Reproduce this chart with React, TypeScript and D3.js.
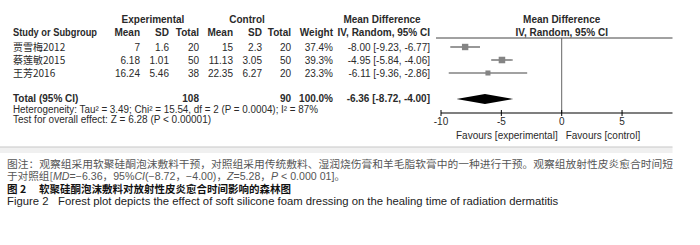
import React from 'react';
import * as d3 from 'd3';

// study data
const studies = ['贾雪梅2012', '蔡莲敏2015', '王芳2016'];
const expMean = [7, 6.18, 16.24];
const expSD = [1.6, 1.01, 5.46];
const expN = [20, 50, 38];
const ctrlMean = [15, 11.13, 22.35];
const ctrlSD = [2.3, 3.05, 6.27];
const ctrlN = [20, 50, 20];
const weights = [37.4, 39.3, 23.3];
const md = [-8.0, -4.95, -6.11];
const ciLow = [-9.23, -5.84, -9.36];
const ciHigh = [-6.77, -4.06, -2.86];

// pooled
const totalExpN = 108;
const totalCtrlN = 90;
const totalMd = -6.36;
const totalLow = -8.72;
const totalHigh = -4.0;

const axisTicks = [-10, -5, 0, 5, 10];

const f2 = (v: number) => v.toFixed(2);
const ciText = (m: number, l: number, h: number) => `${f2(m)} [${f2(l)}, ${f2(h)}]`;

const FONT = '"Liberation Sans", Arial, sans-serif';
const CJK = '"Noto Sans CJK SC", sans-serif';

const App: React.FC = () => {
  const width = 700;
  const height = 245;

  const x = d3.scaleLinear().domain([-10, 10]).range([441, 682.4]);
  const size = d3.scaleSqrt().domain([0, 40]).range([0, 6.6]);
  const rowY = d3.scalePoint<number>().domain([0, 1, 2]).range([47, 73]);

  const totalY = 99;
  const axisY = 113;
  const headerLineY = 38;

  // column right edges
  const cols = { eMean: 140, eSD: 169, eN: 199, cMean: 233, cSD: 262, cN: 291, w: 333, ci: 430 };

  const diamond = [
    [x(totalLow), totalY],
    [x(totalMd), totalY - 5],
    [x(totalHigh), totalY],
    [x(totalMd), totalY + 5],
  ];

  const txt = { fontFamily: FONT, fontSize: 10, fill: '#2a2a2a' } as const;
  const bold = { ...txt, fontWeight: 700 } as const;

  return (
    <svg
      width={width}
      height={height}
      style={{ position: 'absolute', left: 0, top: 0, background: '#fff' }}
    >
      <defs>
        <clipPath id="plotclip">
          <rect x={0} y={0} width={672.5} height={height} />
        </clipPath>
      </defs>

      {/* headers */}
      <text {...bold} x={153} y={23} textAnchor="middle">Experimental</text>
      <text {...bold} x={247} y={23} textAnchor="middle">Control</text>
      <text {...bold} x={382} y={23} textAnchor="middle">Mean Difference</text>
      <text {...bold} x={x(0)} y={23} textAnchor="middle">Mean Difference</text>

      <text {...bold} x={13} y={36} textLength={84} lengthAdjust="spacingAndGlyphs">Study or Subgroup</text>
      <text {...bold} x={cols.eMean} y={36} textAnchor="end">Mean</text>
      <text {...bold} x={cols.eSD} y={36} textAnchor="end">SD</text>
      <text {...bold} x={cols.eN} y={36} textAnchor="end">Total</text>
      <text {...bold} x={cols.cMean} y={36} textAnchor="end">Mean</text>
      <text {...bold} x={cols.cSD} y={36} textAnchor="end">SD</text>
      <text {...bold} x={cols.cN} y={36} textAnchor="end">Total</text>
      <text {...bold} x={cols.w} y={36} textAnchor="end">Weight</text>
      <text {...bold} x={cols.ci} y={36} textAnchor="end">IV, Random, 95% CI</text>
      <text {...bold} x={x(0)} y={36} textAnchor="middle">IV, Random, 95% CI</text>

      <g clipPath="url(#plotclip)">
        <line x1={436} x2={width} y1={headerLineY} y2={headerLineY} stroke="#444" strokeWidth={1} />
        {/* zero line */}
        <line x1={x(0)} x2={x(0)} y1={headerLineY} y2={axisY} stroke="#666" strokeWidth={1} />

        {/* study rows */}
        {studies.map((s, i) => {
          const y = rowY(i) as number;
          const sz = size(weights[i]);
          return (
            <g key={s}>
              <line x1={x(ciLow[i])} x2={x(ciHigh[i])} y1={y} y2={y} stroke="#444" strokeWidth={1.1} />
              <rect x={x(md[i]) - sz / 2} y={y - sz / 2} width={sz} height={sz} fill="#848484" />
            </g>
          );
        })}

        {/* pooled diamond */}
        <polygon points={diamond.map((p) => p.join(',')).join(' ')} fill="#000" />

        {/* axis */}
        <line x1={x(-10)} x2={x(10)} y1={axisY} y2={axisY} stroke="#000" strokeWidth={1.2} />
        {axisTicks.map((t) => (
          <g key={t}>
            <line x1={x(t)} x2={x(t)} y1={axisY - 3} y2={axisY + 3} stroke="#000" strokeWidth={1} />
            <text {...txt} x={x(t)} y={axisY + 12} textAnchor="middle">{t}</text>
          </g>
        ))}
      </g>
      <text {...txt} x={x(0) - 4} y={axisY + 26} textAnchor="end">Favours [experimental]</text>
      <text {...txt} x={x(0) + 4} y={axisY + 26}>Favours [control]</text>

      {/* table rows */}
      {studies.map((s, i) => {
        const y = (rowY(i) as number) + 4;
        return (
          <g key={s} {...txt}>
            <text x={13} y={y} fontFamily={`"Noto Sans CJK SC", ${FONT}`}>{s}</text>
            <text x={cols.eMean} y={y} textAnchor="end">{expMean[i]}</text>
            <text x={cols.eSD} y={y} textAnchor="end">{expSD[i]}</text>
            <text x={cols.eN} y={y} textAnchor="end">{expN[i]}</text>
            <text x={cols.cMean} y={y} textAnchor="end">{ctrlMean[i]}</text>
            <text x={cols.cSD} y={y} textAnchor="end">{ctrlSD[i]}</text>
            <text x={cols.cN} y={y} textAnchor="end">{ctrlN[i]}</text>
            <text x={cols.w} y={y} textAnchor="end">{weights[i].toFixed(1)}%</text>
            <text x={cols.ci} y={y} textAnchor="end">{ciText(md[i], ciLow[i], ciHigh[i])}</text>
          </g>
        );
      })}

      {/* total row */}
      <text {...bold} x={13} y={totalY + 3}>Total (95% CI)</text>
      <text {...bold} x={cols.eN} y={totalY + 3} textAnchor="end">{totalExpN}</text>
      <text {...bold} x={cols.cN} y={totalY + 3} textAnchor="end">{totalCtrlN}</text>
      <text {...bold} x={cols.w} y={totalY + 3} textAnchor="end">100.0%</text>
      <text {...bold} x={cols.ci} y={totalY + 3} textAnchor="end">{ciText(totalMd, totalLow, totalHigh)}</text>
      <text {...txt} x={13} y={112.5} textLength={305} lengthAdjust="spacingAndGlyphs">
        Heterogeneity: Tau² = 3.49; Chi² = 15.54, df = 2 (P = 0.0004); I² = 87%
      </text>
      <text {...txt} x={13} y={123}>Test for overall effect: Z = 6.28 (P &lt; 0.00001)</text>

      {/* separator band */}
      <rect x={0} y={147} width={672.5} height={6} fill="#f0f0f0" />
      <line x1={0} x2={672.5} y1={147} y2={147} stroke="#c8c8c8" strokeWidth={1.2} />

      {/* caption */}
      <text x={7} y={168} fontFamily={CJK} fontSize={10} fill="#555" textLength={666} lengthAdjust="spacingAndGlyphs">
        图注：观察组采用软聚硅酮泡沫敷料干预，对照组采用传统敷料、湿润烧伤膏和羊毛脂软膏中的一种进行干预。观察组放射性皮炎愈合时间短
      </text>
      <text x={7} y={180} fontFamily={CJK} fontSize={10} fill="#555" textLength={338} lengthAdjust="spacingAndGlyphs">
        于对照组[<tspan fontStyle="italic" fontFamily={FONT}>MD</tspan>
        <tspan fontFamily={FONT}>=−6.36</tspan>，<tspan fontFamily={FONT}>95%</tspan>
        <tspan fontStyle="italic" fontFamily={FONT}>CI</tspan>
        <tspan fontFamily={FONT}>(−8.72</tspan>，<tspan fontFamily={FONT}>−4.00)</tspan>，
        <tspan fontStyle="italic" fontFamily={FONT}>Z</tspan>
        <tspan fontFamily={FONT}>=5.28</tspan>，<tspan fontStyle="italic" fontFamily={FONT}>P</tspan>
        <tspan fontFamily={FONT}> &lt; 0.000 01]</tspan>。
      </text>
      <text x={7} y={192.5} fontFamily={CJK} fontSize={10.5} fontWeight={700} fill="#111">
        图 2<tspan x={39}>软聚硅酮泡沫敷料对放射性皮炎愈合时间影响的森林图</tspan>
      </text>
      <text x={7} y={204.5} fontFamily={FONT} fontSize={11.3} fill="#222">
        Figure 2<tspan x={58}>Forest plot depicts the effect of soft silicone foam dressing on the healing time of radiation dermatitis</tspan>
      </text>
    </svg>
  );
};

export default App;
